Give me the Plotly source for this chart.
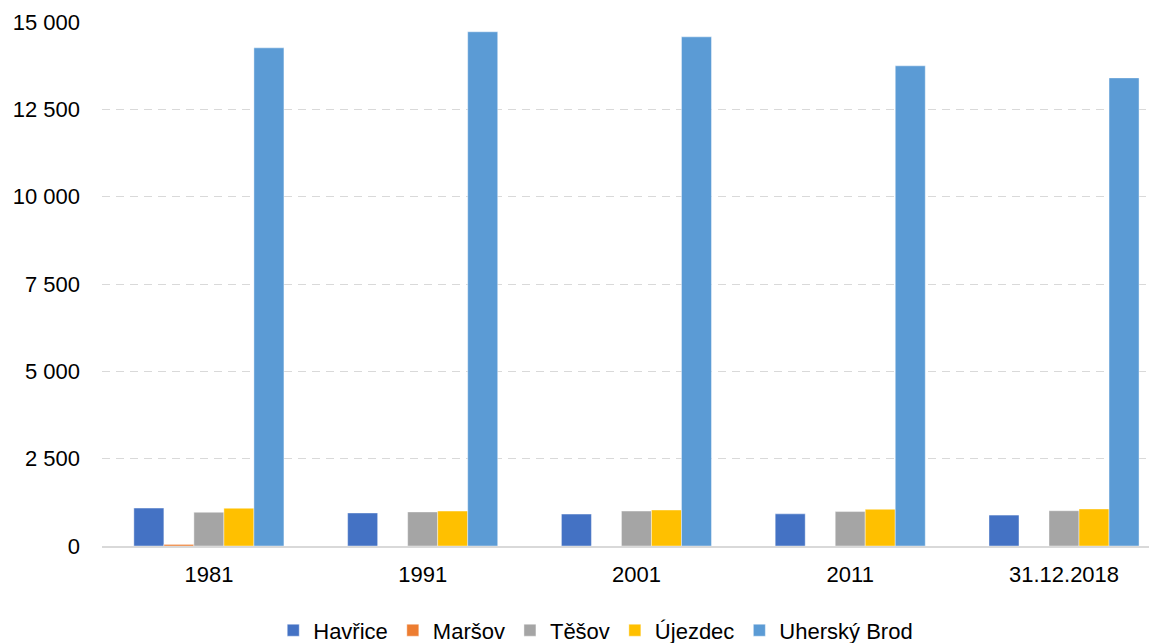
import plotly.graph_objects as go

categories = ["1981", "1991", "2001", "2011", "31.12.2018"]
havrice = [1085, 945, 915, 920, 885]
marsov = [45, 0, 0, 0, 0]
tesov = [965, 975, 1000, 985, 1010]
ujezdec = [1080, 1000, 1030, 1050, 1060]
uhersky_brod = [14260, 14720, 14575, 13745, 13400]

series_names = ["Havřice", "Maršov", "Těšov", "Újezdec", "Uherský Brod"]
series_values = [havrice, marsov, tesov, ujezdec, uhersky_brod]
colors = ["#4472C4", "#ED7D31", "#A5A5A5", "#FFC000", "#5B9BD5"]

fig = go.Figure()
for name, vals, col in zip(series_names, series_values, colors):
    fig.add_trace(go.Bar(
        x=categories, y=vals, name=name,
        marker=dict(color=col, line=dict(color="rgba(255,255,255,0.6)", width=0.7)),
    ))

font_family = "Liberation Sans, Arial, sans-serif"
fig.update_layout(
    width=1149, height=635,
    barmode="group", bargap=0.298, bargroupgap=0,
    plot_bgcolor="white", paper_bgcolor="white",
    margin=dict(l=94, r=0, t=14, b=97, autoexpand=False),
    separators=", ",
    font=dict(family=font_family, size=22, color="#000000"),
    xaxis=dict(
        type="category",
        range=[-0.5, 4.435],
        automargin=False,
        showline=True, linecolor="#d9d9d9", linewidth=2,
        showgrid=False, ticks="", ticklabelstandoff=8,
        tickfont=dict(size=22, color="#000000"),
    ),
    yaxis=dict(
        range=[0, 15000], tickvals=[0, 2500, 5000, 7500, 10000, 12500, 15000],
        tickformat=",d",
        automargin=False,
        showgrid=True, gridcolor="#d9d9d9", gridwidth=1.4, griddash="8px,6px",
        zeroline=False, showline=False, ticks="",
        ticklabelstandoff=21,
        tickfont=dict(size=22, color="#000000"),
    ),
    legend=dict(
        orientation="h", x=0.468, xanchor="center", y=-0.121, yanchor="top",
        font=dict(size=22, color="#000000"), itemwidth=30,
        traceorder="normal",
    ),
)

fig.write_html("out.html")
